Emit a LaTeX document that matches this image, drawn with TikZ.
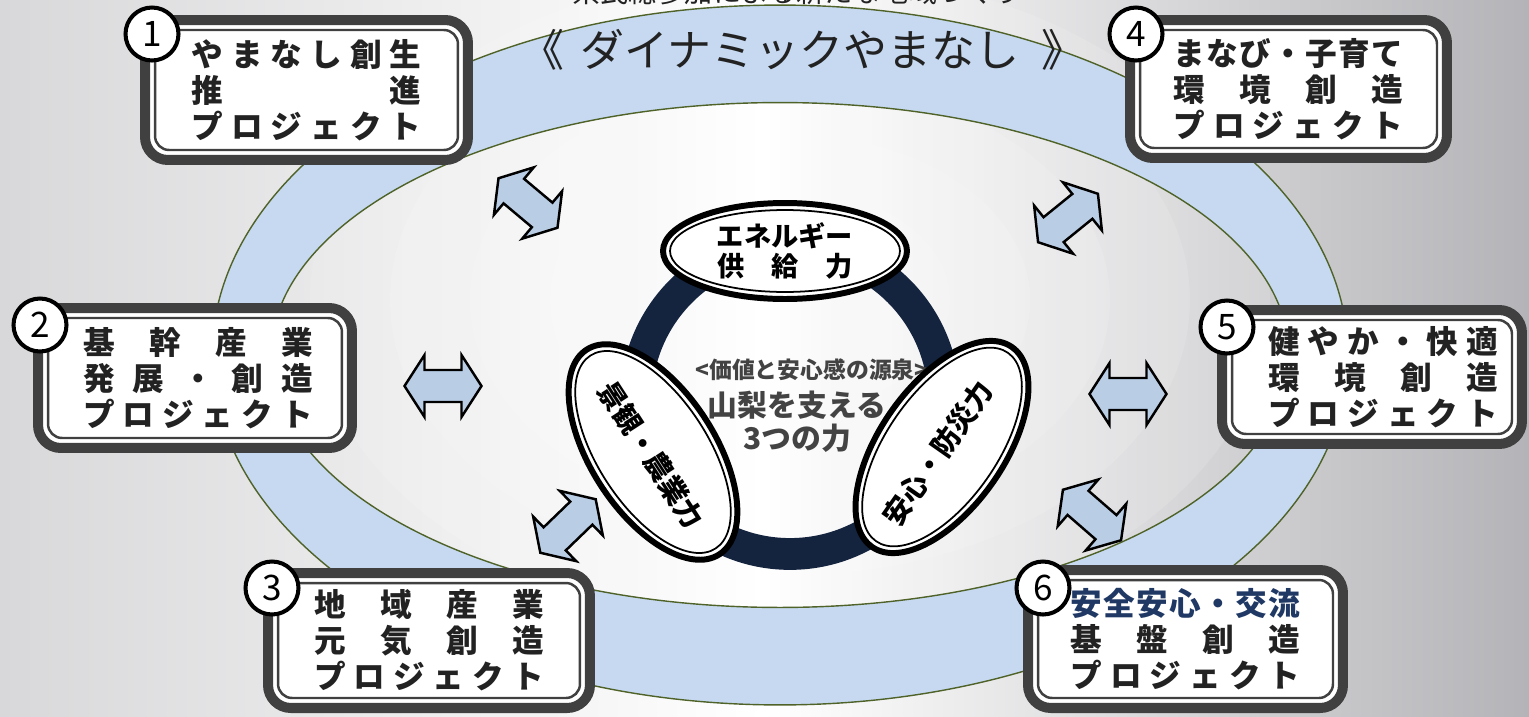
\documentclass[tikz,border=0pt]{standalone}
\usepackage{fontspec}
\newfontfamily\jp{Noto Sans CJK JP}
\usetikzlibrary{shapes.geometric}
\definecolor{ringblue}{RGB}{198,217,241}
\definecolor{ringline}{RGB}{79,98,40}
\definecolor{arrowblue}{RGB}{185,205,229}
\definecolor{boxgray}{RGB}{64,64,64}
\definecolor{ringnavy}{RGB}{20,35,62}
\definecolor{textnavy}{RGB}{31,56,100}
\definecolor{txt}{RGB}{34,34,34}
\definecolor{bgleft}{RGB}{216,216,218}
\definecolor{bgright}{RGB}{180,180,184}
\newcommand\spreadln[1]{\makebox[4.6cm][s]{#1}}
\begin{document}
\begin{tikzpicture}[x=0.02cm,y=-0.02cm,
  pbox/.style={rectangle, rounded corners=13pt, draw=boxgray, line width=5.7pt, fill=white,
    inner sep=0pt, outer sep=0pt, align=center, text=txt,
    font=\jp\bfseries\fontsize{18}{20.5}\selectfont},
  innerline/.style={draw=boxgray, line width=1.4pt, rounded corners=8pt},
  badge/.style={circle, draw=black, line width=2.3pt, fill=white, minimum size=1.06cm,
    inner sep=0pt, font=\jp\fontsize{20}{20}\selectfont},
  ell/.style={ellipse, draw=black, line width=3.4pt, fill=white, inner sep=0pt},
  ellin/.style={ellipse, draw=black, line width=1pt, inner sep=0pt},
  elltext/.style={font=\jp\bfseries\fontsize{16}{17}\selectfont, text=black, align=center, inner sep=0pt},
  darrow/.pic={\filldraw[fill=arrowblue, draw=black, line width=1.4pt, line join=miter]
    (-38.5,0) -- (-18.5,-31) -- (-18.5,-16) -- (18.5,-16) -- (18.5,-31) -- (38.5,0)
    -- (18.5,31) -- (18.5,16) -- (-18.5,16) -- (-18.5,31) -- cycle;}
]
\useasboundingbox (0,0) rectangle (1529,717);
% background
\shade[left color=bgleft, right color=bgright, middle color=white] (0,0) rectangle (1529,717);
\foreach \r in {1,...,6}{
  \fill[white, opacity=0.13] (790,300) ellipse [x radius=\r*1.6cm, y radius=\r*1.1cm];
}
% top (clipped) line
\node[font=\jp\fontsize{16}{16}\selectfont, text=txt] (toptext) at (797,-8) {県民総参加による新たな地域づくり};
% blue ring
\fill[ringblue, even odd rule] (780,355) ellipse [x radius=11.36cm, y radius=7cm]
  (780,355) ellipse [x radius=10.18cm, y radius=5.05cm];
\draw[ringline, line width=0.8pt] (780,355) ellipse [x radius=11.36cm, y radius=7cm];
\draw[ringline, line width=0.8pt] (780,355) ellipse [x radius=10.18cm, y radius=5.05cm];
% title
\node[font=\jp\fontsize{25}{25}\selectfont, text=txt] (title) at (800,50) {ダイナミックやまなし};
\node[font=\jp\fontsize{25}{25}\selectfont, text=txt] (lq) at (542,50) {《};
\node[font=\jp\fontsize{25}{25}\selectfont, text=txt] (rq) at (1063,50) {》};
% central ring
\draw[ringnavy, line width=18.1pt] (790,400) circle [radius=3.08cm];
% center text
\node[font=\jp\bfseries\fontsize{13}{13}\selectfont, text=txt!85] (src) at (812,370) {<価値と安心感の源泉>};
\node[font=\jp\bfseries\fontsize{17}{17}\selectfont, text=txt!85] (t1) at (797,405) {山梨を支える};
\node[font=\jp\bfseries\fontsize{17}{17}\selectfont, text=txt!85] (t2) at (797,438) {3つの力};
% three ellipses
\node[ell, minimum width=4.88cm, minimum height=1.92cm] (eTop) at (785,251) {};
\node[ellin, minimum width=4.6cm, minimum height=1.64cm] (eTopIn) at (eTop.center) {};
\node[elltext, font=\jp\bfseries\fontsize{15.5}{17}\selectfont] (eTopT) at (785,251) {エネルギー\\\makebox[2.72cm][s]{供\hfill 給\hfill 力}};
\node[ell, rotate=-57, minimum width=4.88cm, minimum height=2.48cm] (eLeft) at (653,452) {};
\node[ellin, rotate=-57, minimum width=4.6cm, minimum height=2.2cm] (eLeftIn) at (eLeft.center) {};
\node[elltext, rotate=-57] (eLeftT) at (651,455) {景観・農業力};
\node[ell, rotate=55, minimum width=4.88cm, minimum height=2.48cm] (eRight) at (942,447) {};
\node[ellin, rotate=55, minimum width=4.6cm, minimum height=2.2cm] (eRightIn) at (eRight.center) {};
\node[elltext, rotate=55] (eRightT) at (938,453) {安心・防災力};
% double arrows
\pic[rotate=-40] (a1) at (528,203) {darrow};
\pic[rotate=39] (a4) at (1068,218) {darrow};
\pic (a2) at (443,386) {darrow};
\pic (a5) at (1128,394) {darrow};
\pic[rotate=44] (a3) at (568,526) {darrow};
\pic[rotate=-41] (a6) at (1092,515) {darrow};
% project boxes
\node[pbox, minimum width=6.46cm, minimum height=2.8cm] (b1) at (306.5,90)
  {\spreadln{や\hfill ま\hfill な\hfill し\hfill 創\hfill 生}\\\spreadln{推\hfill 進}\\\spreadln{プ\hfill ロ\hfill ジ\hfill ェ\hfill ク\hfill ト}};
\node[pbox, minimum width=6.28cm, minimum height=2.8cm] (b2) at (195,378)
  {\hspace*{0.12cm}\spreadln{基\hfill 幹\hfill 産\hfill 業}\\\hspace*{0.12cm}\spreadln{発\hfill 展\hfill ・\hfill 創\hfill 造}\\\hspace*{0.12cm}\spreadln{プ\hfill ロ\hfill ジ\hfill ェ\hfill ク\hfill ト}};
\node[pbox, minimum width=6.44cm, minimum height=2.7cm] (b3) at (429,640.5)
  {\spreadln{地\hfill 域\hfill 産\hfill 業}\\\spreadln{元\hfill 気\hfill 創\hfill 造}\\\spreadln{プ\hfill ロ\hfill ジ\hfill ェ\hfill ク\hfill ト}};
\node[pbox, minimum width=6.34cm, minimum height=2.76cm] (b4) at (1288.5,89)
  {\spreadln{ま\hfill な\hfill び\hfill ・\hfill 子\hfill 育\hfill て}\\\spreadln{環\hfill 境\hfill 創\hfill 造}\\\spreadln{プ\hfill ロ\hfill ジ\hfill ェ\hfill ク\hfill ト}};
\node[pbox, minimum width=6.0cm, minimum height=2.68cm] (b5) at (1372,377)
  {\hspace*{0.44cm}\spreadln{健\hfill や\hfill か\hfill ・\hfill 快\hfill 適}\\\hspace*{0.44cm}\spreadln{環\hfill 境\hfill 創\hfill 造}\\\hspace*{0.44cm}\spreadln{プ\hfill ロ\hfill ジ\hfill ェ\hfill ク\hfill ト}};
\node[pbox, minimum width=6.3cm, minimum height=2.76cm] (b6) at (1185.5,639)
  {\spreadln{\color{textnavy}安\hfill 全\hfill 安\hfill 心\hfill ・\hfill 交\hfill 流}\\\spreadln{基\hfill 盤\hfill 創\hfill 造}\\\spreadln{プ\hfill ロ\hfill ジ\hfill ェ\hfill ク\hfill ト}};
\foreach \b in {b1,b2,b3,b4,b5,b6}{
  \draw[innerline] ([shift={(10,10)}]\b.north west) rectangle ([shift={(-10,-10)}]\b.south east);
}
% number badges
\node[badge] (n1) at (152,34) {1};
\node[badge] (n2) at (40,325) {2};
\node[badge] (n3) at (272,588) {3};
\node[badge] (n4) at (1136,34) {4};
\node[badge] (n5) at (1227,327) {5};
\node[badge] (n6) at (1043,588) {6};
\end{tikzpicture}
\end{document}
